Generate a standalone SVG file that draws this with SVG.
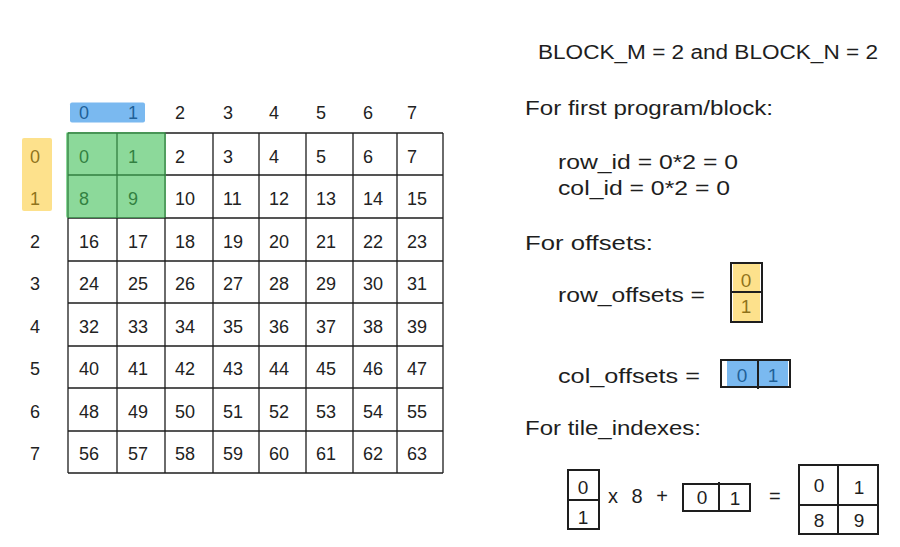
<svg xmlns="http://www.w3.org/2000/svg" width="900" height="547" viewBox="0 0 900 547">
<style>
.g{font-family:"Liberation Sans",Arial,sans-serif;font-size:18px;fill:#222}
.h{font-family:"Liberation Sans",Arial,sans-serif;font-size:20px;fill:#1e1e1e}
.b{font-family:"Liberation Sans",Arial,sans-serif;font-size:19px;fill:#1e1e1e;text-anchor:middle}
.gl{stroke:#1e1e1e;stroke-width:1.3;fill:none}
.bx{stroke:#1e1e1e;stroke-width:2;fill:none}
.green{fill:#40c057;opacity:0.6}
.blue{fill:#228be6;opacity:0.6}
.yellow{fill:#fcc419;opacity:0.5}
</style>
<rect width="900" height="547" fill="#fff"/>

<g id="col-headers">
<text class="g" x="79" y="119">0</text>
<text class="g" x="128" y="119">1</text>
<text class="g" x="175" y="119">2</text>
<text class="g" x="223" y="119">3</text>
<text class="g" x="269" y="119">4</text>
<text class="g" x="316" y="119">5</text>
<text class="g" x="363" y="119">6</text>
<text class="g" x="407" y="119">7</text>
</g>
<g id="row-headers">
<text class="g" x="30" y="162.5">0</text>
<text class="g" x="30" y="205">1</text>
<text class="g" x="30" y="247.5">2</text>
<text class="g" x="30" y="290">3</text>
<text class="g" x="30" y="332.5">4</text>
<text class="g" x="30" y="375">5</text>
<text class="g" x="30" y="417.5">6</text>
<text class="g" x="30" y="460">7</text>
</g>

<g id="grid">
<path class="gl" d="M68 133H443M68 175H443M68 218H443M68 261H443M68 303H443M68 346H443M68 388H443M68 431H443M68 473H443M68 133V473M117 133V473M165 133V473M213 133V473M259 133V473M306 133V473M353 133V473M397 133V473M443 133V473"/>
<g id="cells">
<text class="g" x="79" y="162.5">0</text><text class="g" x="128" y="162.5">1</text><text class="g" x="175" y="162.5">2</text><text class="g" x="223" y="162.5">3</text><text class="g" x="269" y="162.5">4</text><text class="g" x="316" y="162.5">5</text><text class="g" x="363" y="162.5">6</text><text class="g" x="407" y="162.5">7</text>
<text class="g" x="79" y="205">8</text><text class="g" x="128" y="205">9</text><text class="g" x="175" y="205">10</text><text class="g" x="223" y="205">11</text><text class="g" x="269" y="205">12</text><text class="g" x="316" y="205">13</text><text class="g" x="363" y="205">14</text><text class="g" x="407" y="205">15</text>
<text class="g" x="79" y="247.5">16</text><text class="g" x="128" y="247.5">17</text><text class="g" x="175" y="247.5">18</text><text class="g" x="223" y="247.5">19</text><text class="g" x="269" y="247.5">20</text><text class="g" x="316" y="247.5">21</text><text class="g" x="363" y="247.5">22</text><text class="g" x="407" y="247.5">23</text>
<text class="g" x="79" y="290">24</text><text class="g" x="128" y="290">25</text><text class="g" x="175" y="290">26</text><text class="g" x="223" y="290">27</text><text class="g" x="269" y="290">28</text><text class="g" x="316" y="290">29</text><text class="g" x="363" y="290">30</text><text class="g" x="407" y="290">31</text>
<text class="g" x="79" y="332.5">32</text><text class="g" x="128" y="332.5">33</text><text class="g" x="175" y="332.5">34</text><text class="g" x="223" y="332.5">35</text><text class="g" x="269" y="332.5">36</text><text class="g" x="316" y="332.5">37</text><text class="g" x="363" y="332.5">38</text><text class="g" x="407" y="332.5">39</text>
<text class="g" x="79" y="375">40</text><text class="g" x="128" y="375">41</text><text class="g" x="175" y="375">42</text><text class="g" x="223" y="375">43</text><text class="g" x="269" y="375">44</text><text class="g" x="316" y="375">45</text><text class="g" x="363" y="375">46</text><text class="g" x="407" y="375">47</text>
<text class="g" x="79" y="417.5">48</text><text class="g" x="128" y="417.5">49</text><text class="g" x="175" y="417.5">50</text><text class="g" x="223" y="417.5">51</text><text class="g" x="269" y="417.5">52</text><text class="g" x="316" y="417.5">53</text><text class="g" x="363" y="417.5">54</text><text class="g" x="407" y="417.5">55</text>
<text class="g" x="79" y="460">56</text><text class="g" x="128" y="460">57</text><text class="g" x="175" y="460">58</text><text class="g" x="223" y="460">59</text><text class="g" x="269" y="460">60</text><text class="g" x="316" y="460">61</text><text class="g" x="363" y="460">62</text><text class="g" x="407" y="460">63</text>
</g>
</g>

<g id="highlights">
<rect class="blue" x="70" y="102.5" width="75" height="20" rx="2"/>
<rect class="yellow" x="22" y="138" width="30" height="73" rx="2"/>
<rect class="green" x="66" y="132" width="100" height="86" rx="2"/>
</g>

<g id="notes">
<text class="h" x="538" y="59" textLength="340" lengthAdjust="spacingAndGlyphs">BLOCK_M = 2 and BLOCK_N = 2</text>
<text class="h" x="525" y="115" textLength="248" lengthAdjust="spacingAndGlyphs">For first program/block:</text>
<text class="h" x="558" y="169" textLength="180" lengthAdjust="spacingAndGlyphs">row_id = 0*2 = 0</text>
<text class="h" x="558" y="195" textLength="172" lengthAdjust="spacingAndGlyphs">col_id = 0*2 = 0</text>
<text class="h" x="525" y="250" textLength="128" lengthAdjust="spacingAndGlyphs">For offsets:</text>
<text class="h" x="558" y="302" textLength="147" lengthAdjust="spacingAndGlyphs">row_offsets =</text>
<text class="h" x="558" y="383" textLength="142" lengthAdjust="spacingAndGlyphs">col_offsets =</text>
<text class="h" x="525" y="435" textLength="176" lengthAdjust="spacingAndGlyphs">For tile_indexes:</text>
</g>

<g id="row-offsets-box">
<text class="b" x="746" y="287">0</text>
<text class="b" x="746" y="313">1</text>
<rect class="yellow" x="733" y="264" width="27" height="57"/>
<rect class="bx" x="731" y="263" width="31" height="59"/>
<path class="bx" d="M731 292H762"/>
</g>

<g id="col-offsets-box">
<text class="b" x="742" y="382">0</text>
<text class="b" x="773" y="382">1</text>
<rect class="blue" x="727" y="361" width="61" height="25"/>
<rect class="bx" x="721" y="360" width="69" height="27"/>
<path class="bx" d="M758 360V389"/>
</g>

<g id="tile-formula">
<rect class="bx" x="568" y="470" width="31" height="59"/>
<path class="bx" d="M568 500H599"/>
<text class="b" x="583" y="494">0</text>
<text class="b" x="583" y="524">1</text>
<text class="h" x="608" y="503" textLength="60" lengthAdjust="spacing">x 8 +</text>
<rect class="bx" x="683" y="484" width="67" height="27"/>
<path class="bx" d="M719 482V511"/>
<text class="b" x="702" y="504">0</text>
<text class="b" x="735" y="505">1</text>
<text class="h" x="769" y="503">=</text>
<rect class="bx" x="799" y="465" width="79" height="69"/>
<path class="bx" d="M838 465V534M799 505H878"/>
<text class="b" x="819" y="492">0</text>
<text class="b" x="859" y="494">1</text>
<text class="b" x="819" y="527">8</text>
<text class="b" x="859" y="527">9</text>
</g>
</svg>
